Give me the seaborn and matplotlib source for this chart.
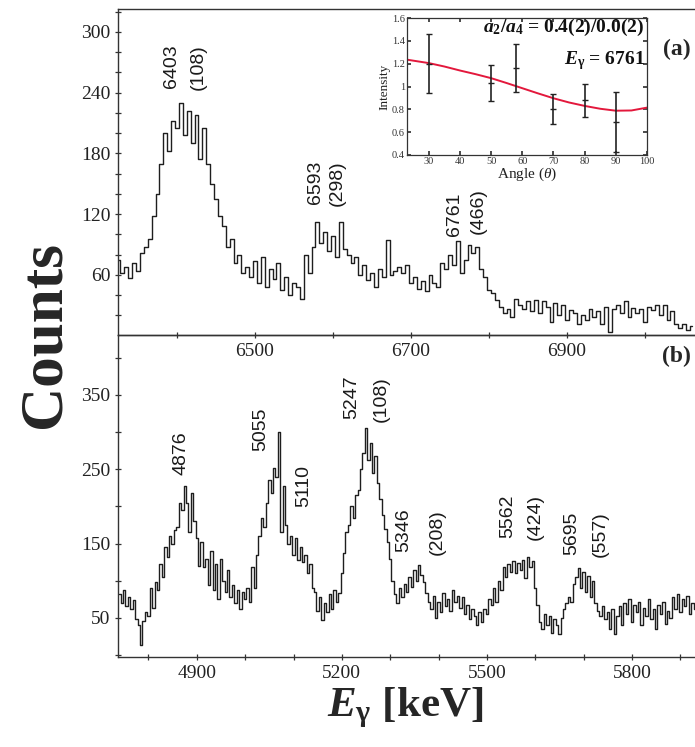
import numpy as np
import pandas as pd
import seaborn as sns
import matplotlib
matplotlib.use("Agg")
import matplotlib.pyplot as plt
from matplotlib.ticker import MultipleLocator, FixedLocator, FormatStrFormatter

# ---------------- data ----------------
top_start, top_bin = 6325, 5
top_counts = [
    75, 62, 68, 57, 72, 64, 82, 88, 96, 118, 140, 170, 200, 182, 212, 205, 230, 198, 222, 190,
    218, 175, 205, 170, 150, 135, 118, 108, 88, 96, 72, 80, 62, 68, 58, 74, 52, 78, 48, 66,
    56, 72, 45, 58, 40, 52, 48, 36, 80, 62, 88, 112, 92, 102, 84, 98, 78, 112, 86, 80,
    72, 78, 60, 70, 55, 62, 48, 66, 58, 95, 60, 64, 68, 62, 70, 52, 58, 46, 54, 44,
    60, 52, 48, 72, 66, 80, 70, 94, 62, 75, 90, 82, 88, 66, 58, 45, 42, 35, 28, 22,
    26, 18, 36, 30, 26, 34, 24, 35, 22, 34, 28, 14, 32, 20, 30, 16, 25, 22, 12, 20,
    16, 26, 18, 24, 12, 28, 4, 26, 30, 22, 34, 18, 27, 22, 26, 14, 28, 25, 30, 20,
    30, 16, 24, 12, 8, 12, 6, 10,
]
bottom_start, bottom_bin = 4740, 5
bottom_counts = [
    82, 70, 88, 66, 78, 62, 74, 48, 40, 14, 46, 58, 52, 90, 64, 98, 88, 122, 105, 145,
    132, 160, 150, 168, 172, 205, 195, 227, 205, 165, 218, 180, 158, 120, 152, 118, 130, 95, 140, 88,
    122, 75, 130, 100, 85, 115, 78, 95, 70, 88, 62, 85, 76, 90, 72, 118, 90, 135, 160, 185,
    172, 205, 235, 218, 252, 240, 300, 165, 228, 175, 150, 160, 135, 158, 128, 145, 125, 135, 110, 122,
    90, 85, 60, 78, 47, 70, 58, 82, 62, 88, 72, 84, 110, 138, 165, 175, 200, 185, 215, 222,
    250, 272, 306, 262, 285, 245, 268, 232, 210, 188, 170, 152, 130, 100, 82, 70, 90, 78, 96, 85,
    105, 92, 114, 100, 121, 108, 98, 84, 72, 62, 80, 50, 72, 58, 84, 66, 76, 60, 88, 72,
    80, 64, 78, 55, 68, 48, 62, 52, 40, 58, 45, 62, 55, 75, 68, 90, 72, 100, 88, 118,
    105, 122, 112, 126, 110, 124, 115, 128, 104, 132, 118, 126, 90, 68, 45, 35, 55, 40, 52, 30,
    48, 40, 28, 50, 62, 70, 78, 72, 96, 105, 117, 90, 112, 85, 106, 78, 100, 70, 60, 52,
    66, 48, 58, 35, 62, 28, 52, 66, 40, 70, 55, 76, 45, 68, 58, 72, 40, 64, 52, 75,
    48, 62, 35, 68, 55, 72, 42, 60, 50, 78, 62, 82, 58, 75, 66, 80, 55, 70, 62,
]

top_label_text = ["6403", "(108)", "6593", "(298)", "6761", "(466)"]
top_label_energy = [6393, 6427, 6578, 6606, 6756, 6786]
top_label_count = [245, 243, 130, 128, 98, 100]

bottom_label_text = ["4876", "5055", "5110", "5247", "(108)", "5346", "(208)",
                     "5562", "(424)", "5695", "(557)"]
bottom_label_energy = [4867, 5032, 5122, 5220, 5282, 5329, 5397, 5544, 5600, 5676, 5734]
bottom_label_count = [242, 275, 199, 318, 313, 139, 135, 157, 155, 135, 132]

inset_angle = [30, 50, 58, 70, 80, 90]
inset_intensity = [1.20, 1.03, 1.16, 0.80, 0.88, 0.69]
inset_error = [0.26, 0.155, 0.21, 0.13, 0.145, 0.265]
fit_angle = [23, 30, 35, 40, 45, 50, 55, 60, 65, 70, 75, 80, 85, 90, 95, 100]
fit_intensity = [1.235, 1.205, 1.175, 1.14, 1.108, 1.073, 1.03, 0.985, 0.94, 0.897,
                 0.86, 0.83, 0.805, 0.788, 0.79, 0.815]

# ---------------- style ----------------
sns.set_theme(style="ticks")
plt.rcParams["font.family"] = ["Liberation Serif", "DejaVu Serif"]
plt.rcParams["mathtext.fontset"] = "custom"
plt.rcParams["mathtext.rm"] = "Liberation Serif:bold"
plt.rcParams["mathtext.it"] = "Liberation Serif:italic:bold"
plt.rcParams["mathtext.bf"] = "Liberation Serif:bold"
plt.rcParams["mathtext.sf"] = "Liberation Serif:italic"

W, H = 695, 747
fig = plt.figure(figsize=(W / 100, H / 100), dpi=100)
fig.patch.set_facecolor("white")

def fx(px):
    return px / W

def fy(py):
    return 1 - py / H

ax2 = fig.add_axes([fx(118), fy(657), fx(577), (657 - 335) / H])
ax1 = fig.add_axes([fx(118), fy(335), fx(577), (335 - 9) / H])
ax1.set_zorder(3)
ax2.set_zorder(1)
ax1.patch.set_visible(False)
ax2.patch.set_visible(False)

top_df = pd.DataFrame({"E": top_start + top_bin * np.arange(len(top_counts)), "C": top_counts})
bot_df = pd.DataFrame({"E": bottom_start + bottom_bin * np.arange(len(bottom_counts)), "C": bottom_counts})

line_col = "#1e1e1e"
sns.lineplot(data=top_df, x="E", y="C", ax=ax1, drawstyle="steps-mid", color=line_col, lw=1.0)
sns.lineplot(data=bot_df, x="E", y="C", ax=ax2, drawstyle="steps-mid", color=line_col, lw=1.0)

ax1.set_xlim(6324.4, 7064)
ax1.set_ylim(0.7, 322.7)
ax2.set_xlim(4737, 5930.4)
ax2.set_ylim(-2.5, 430.7)

ax1.xaxis.set_major_locator(FixedLocator([6500, 6700, 6900]))
ax1.xaxis.set_minor_locator(FixedLocator([6400, 6600, 6800, 7000]))
ax1.yaxis.set_major_locator(FixedLocator([60, 120, 180, 240, 300]))
ax1.yaxis.set_minor_locator(MultipleLocator(20))
ax2.xaxis.set_major_locator(FixedLocator([4900, 5200, 5500, 5800]))
ax2.xaxis.set_minor_locator(MultipleLocator(100))
ax2.yaxis.set_major_locator(FixedLocator([50, 150, 250, 350]))
ax2.yaxis.set_minor_locator(MultipleLocator(50))

for ax in (ax1, ax2):
    ax.set_xlabel("")
    ax.set_ylabel("")
    ax.spines["right"].set_visible(False)
    for s in ("left", "bottom", "top"):
        ax.spines[s].set_color("#333333")
        ax.spines[s].set_linewidth(1.0)
    ax.tick_params(which="both", direction="inout", color="#333333", width=0.9,
                   labelsize=14, labelcolor="#222222", pad=3)
    ax.tick_params(which="major", length=5)
    ax.tick_params(which="minor", length=5)

for t, e, c in zip(top_label_text, top_label_energy, top_label_count):
    ax1.text(e, c, t, rotation=90, ha="center", va="bottom", fontsize=14,
             family=["Liberation Sans", "DejaVu Sans"], color="#1a1a1a")
for t, e, c in zip(bottom_label_text, bottom_label_energy, bottom_label_count):
    ax2.text(e, c, t, rotation=90, ha="center", va="bottom", fontsize=14,
             family=["Liberation Sans", "DejaVu Sans"], color="#1a1a1a")

# ---------------- inset ----------------
axi = fig.add_axes([fx(407), fy(155), fx(240), 137 / H])
axi.set_zorder(5)
fit_df = pd.DataFrame({"angle": fit_angle, "I": fit_intensity})
sns.lineplot(data=fit_df, x="angle", y="I", ax=axi, color="#e3183c", lw=1.4)
axi.errorbar(inset_angle, inset_intensity, yerr=inset_error, fmt="_", color="#222222",
             ecolor="#222222", elinewidth=1.2, capsize=2.5, markersize=4)
axi.set_xlim(23, 100)
axi.set_ylim(0.4, 1.6)
axi.xaxis.set_major_locator(MultipleLocator(10))
axi.yaxis.set_major_locator(MultipleLocator(0.2))
axi.yaxis.set_major_formatter(FormatStrFormatter("%g"))
axi.tick_params(which="both", direction="in", top=True, right=True, length=3,
                labelsize=7.5, pad=1.5, color="#333333", labelcolor="#333333")
for s in axi.spines.values():
    s.set_color("#333333")
    s.set_linewidth(0.9)
axi.set_xlabel(r"Angle ($\mathsf{\theta}$)", fontsize=11, labelpad=0, color="#222222")
axi.set_ylabel("Intensity", fontsize=9.5, labelpad=1, color="#222222")
axi.set_facecolor("white")

axi.text(0.99, 0.90, r"$a_{2}/a_{4}$ = 0.4(2)/0.0(2)", transform=axi.transAxes,
         ha="right", va="baseline", fontsize=14, fontweight="bold", color="#111111", zorder=6)
axi.text(0.99, 0.665, r"$E_{\mathrm{\gamma}}$ = 6761", transform=axi.transAxes,
         ha="right", va="baseline", fontsize=14, fontweight="bold", color="#111111", zorder=6)

# ---------------- panel tags and axis titles ----------------
fig.text(fx(677), fy(49), "(a)", ha="center", va="center", fontsize=17, fontweight="bold")
fig.text(fx(676), fy(356), "(b)", ha="center", va="center", fontsize=17, fontweight="bold")
fig.text(fx(45), fy(335), "Counts", rotation=90, ha="center", va="center",
         fontsize=44, fontweight="bold")
fig.text(fx(405), fy(708), r"$E_{\mathrm{\gamma}}$ [keV]", ha="center", va="center",
         fontsize=31, fontweight="bold")

fig.savefig("out.png", dpi=100, facecolor="white")
